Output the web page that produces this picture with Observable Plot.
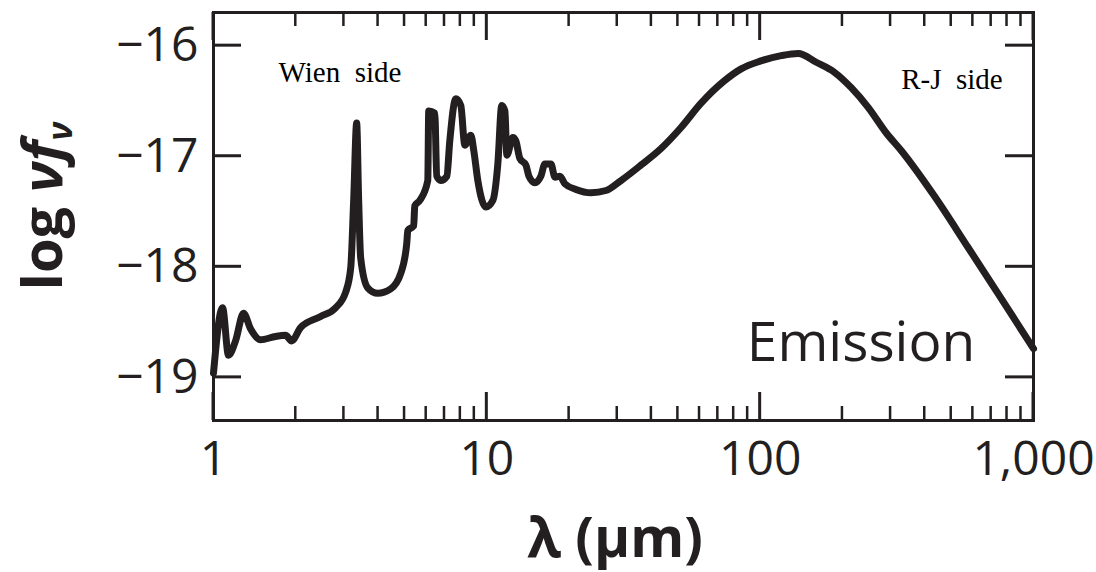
<!DOCTYPE html>
<html>
<head>
<meta charset="utf-8">
<script src="https://cdn.jsdelivr.net/npm/d3@7"></script>
<script src="https://cdn.jsdelivr.net/npm/@observablehq/plot@0.6"></script>
<style>
  html, body { margin: 0; padding: 0; background: #fff; }
</style>
</head>
<body>
<div id="chart"></div>
<script>
// Wavelength (µm) and log νfν
const wavelength = [1.00, 1.079, 1.135, 1.204, 1.288, 1.366, 1.486, 1.687, 1.835, 1.931,
  2.083, 2.466, 2.798, 3.044, 3.177, 3.257, 3.340, 3.397, 3.455, 3.665,
  3.987, 4.449, 4.842, 5.093, 5.14, 5.40, 5.45, 5.684, 6.08, 6.13,
  6.45, 6.56, 6.78, 7.14, 7.32, 7.70, 8.03, 8.31, 8.74, 8.96,
  9.27, 9.92, 10.52, 10.97, 11.34, 11.64, 11.84, 12.45, 12.76, 13.21,
  13.90, 14.25, 14.99, 15.77, 16.31, 17.16, 17.75, 18.51, 19.31, 21.18,
  24.04, 27.29, 30.97, 36.65, 43.39, 51.35, 60.79, 73.8, 85.2, 100,
  119.4, 137.8, 160.4, 186.7, 215.4, 248.7, 289.4, 328.5, 433.9, 578,
  763.5, 1000];
const logNuFnu = [-18.96, -18.37, -18.80, -18.67, -18.42, -18.56, -18.66, -18.63, -18.62, -18.67,
  -18.55, -18.45, -18.37, -18.23, -18.01, -17.40, -16.70, -17.40, -17.92, -18.19,
  -18.24, -18.20, -18.06, -17.79, -17.67, -17.63, -17.45, -17.40, -17.22, -16.59,
  -16.61, -17.18, -17.22, -17.18, -16.86, -16.48, -16.54, -16.90, -16.81, -16.95,
  -17.22, -17.46, -17.40, -17.07, -16.54, -16.59, -16.99, -16.83, -16.86, -17.02,
  -17.08, -17.18, -17.24, -17.18, -17.07, -17.07, -17.19, -17.18, -17.25, -17.30,
  -17.33, -17.31, -17.22, -17.08, -16.93, -16.74, -16.52, -16.32, -16.21, -16.14,
  -16.09, -16.07, -16.15, -16.24, -16.38, -16.56, -16.79, -16.95, -17.36, -17.83,
  -18.29, -18.74];

const xMajorTicks = [1, 10, 100, 1000];
const xMinorTicks = [2,3,4,5,6,7,8,9, 20,30,40,50,60,70,80,90, 200,300,400,500,600,700,800,900];
const yTicks = [-19, -18, -17, -16];

const noteText = ["Wien\u00a0\u00a0side", "R-J\u00a0\u00a0side"];
const noteX = [1.73, 328];
const noteY = [-16.33, -16.39];
const tagText = ["Emission"];
const tagX = [234];
const tagY = [-18.85];

const data = wavelength.map((w, i) => ({w, v: logNuFnu[i]}));
const notes = noteText.map((t, i) => ({t, x: noteX[i], y: noteY[i]}));
const tags = tagText.map((t, i) => ({t, x: tagX[i], y: tagY[i]}));

const W = 1096, H = 572;
const mL = 213, mR = 63, mT = 12, mB = 152;
const pw = W - mL - mR, ph = H - mT - mB;
const ink = "#231f20";
const sans = "'Open Sans', 'Noto Sans', sans-serif";
const minus = d => (d < 0 ? "\u2212" : "") + Math.abs(d);

const svg = Plot.plot({
  width: W, height: H,
  marginLeft: mL, marginRight: mR, marginTop: mT, marginBottom: mB,
  style: {background: "#fff", fontFamily: sans, color: ink},
  x: {type: "log", domain: [1, 1000]},
  y: {domain: [-19.39, -15.70]},
  marks: [
    Plot.axisX({ticks: xMajorTicks, tickSize: 0, tickPadding: 20, tickFormat: d3.format(","),
      fontSize: 48, label: null, fill: ink}),
    Plot.axisY({ticks: yTicks, tickSize: 0, tickPadding: 15, tickFormat: minus,
      fontSize: 48, label: null, fill: ink}),
    Plot.line(data, {x: "w", y: "v", curve: "monotone-x", stroke: ink, strokeWidth: 7,
      strokeLinejoin: "round", strokeLinecap: "round"}),
    Plot.text(notes, {x: "x", y: "y", text: "t", textAnchor: "start", lineAnchor: "bottom",
      fontFamily: "'Liberation Serif', 'Times New Roman', serif", fontSize: 29, fill: "#000"}),
    Plot.text(tags, {x: "x", y: "y", text: "t", textAnchor: "middle", lineAnchor: "bottom",
      fontFamily: sans, fontSize: 55, fill: ink}),
    Plot.frame({stroke: ink, strokeWidth: 3})
  ]
});

const s = d3.select(svg);
const xs = svg.scale("x"), ys = svg.scale("y");
const yTop = mT, yBottom = H - mB, xLeft = mL, xRight = W - mR;
const tg = s.append("g").attr("stroke", ink).attr("fill", "none");
// inward x ticks (top and bottom)
for (const v of xMajorTicks) {
  const x = xs.apply(v);
  tg.append("line").attr("x1", x).attr("x2", x).attr("y1", yBottom).attr("y2", yBottom - 28).attr("stroke-width", 3);
  tg.append("line").attr("x1", x).attr("x2", x).attr("y1", yTop).attr("y2", yTop + 28).attr("stroke-width", 3);
}
for (const v of xMinorTicks) {
  const x = xs.apply(v);
  tg.append("line").attr("x1", x).attr("x2", x).attr("y1", yBottom).attr("y2", yBottom - 14).attr("stroke-width", 2.5);
  tg.append("line").attr("x1", x).attr("x2", x).attr("y1", yTop).attr("y2", yTop + 14).attr("stroke-width", 2.5);
}
// inward y ticks (left and right)
for (const v of yTicks) {
  const y = ys.apply(v);
  tg.append("line").attr("x1", xLeft).attr("x2", xLeft + 28).attr("y1", y).attr("y2", y).attr("stroke-width", 3);
  tg.append("line").attr("x1", xRight).attr("x2", xRight - 28).attr("y1", y).attr("y2", y).attr("stroke-width", 3);
}

// x-axis title
s.append("text")
  .attr("x", mL + pw / 2 - 8).attr("y", 557)
  .attr("text-anchor", "middle")
  .attr("font-family", sans).attr("font-weight", "bold").attr("font-size", 55)
  .attr("fill", ink)
  .text("λ (µm)");
// y-axis title
const yt = s.append("text")
  .attr("transform", "translate(62,206) rotate(-90)")
  .attr("text-anchor", "middle")
  .attr("font-family", sans).attr("font-weight", "bold").attr("font-size", 56)
  .attr("fill", ink);
yt.append("tspan").text("log ");
yt.append("tspan").attr("font-style", "italic").text("νf");
yt.append("tspan").attr("font-style", "italic").attr("font-size", 34).attr("dy", 10).text("ν");

document.getElementById("chart").appendChild(svg);
</script>
</body>
</html>
